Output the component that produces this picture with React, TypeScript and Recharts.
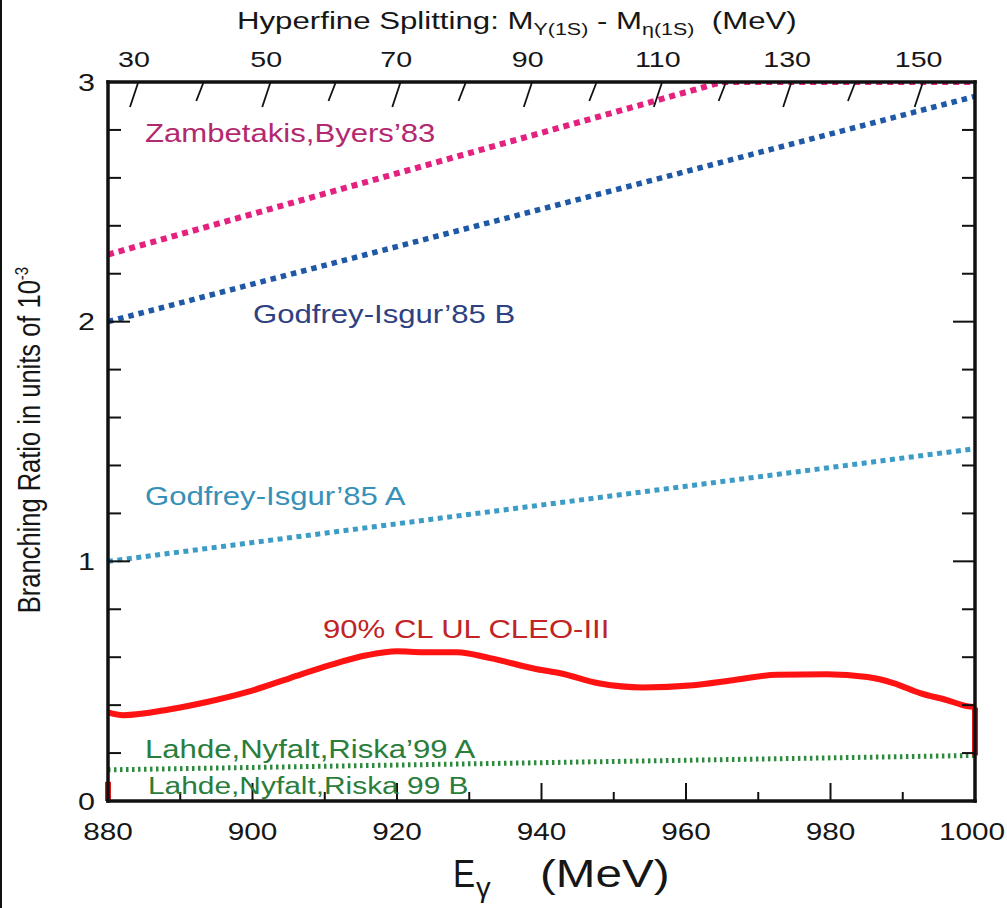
import { LineChart, Line, XAxis, YAxis, ReferenceLine } from 'recharts';

const FONT = "'Liberation Sans', Arial, sans-serif";

// bottom axis: photon energy (MeV)
const eTicks = [880, 890, 900, 910, 920, 930, 940, 950, 960, 970, 980, 990, 1000];
// left / right axis: branching ratio (1e-3)
const brTicks = [0, 0.2, 0.4, 0.6, 0.8, 1, 1.2, 1.4, 1.6, 1.8, 2, 2.2, 2.4, 2.6, 2.8, 3];
// top axis: hyperfine splitting and where it falls on the E scale
const hfsValues = [30, 40, 50, 60, 70, 80, 90, 100, 110, 120, 130, 140, 150];
const hfsAtE = [883.6, 892.7, 901.9, 911.0, 919.9, 929.0, 938.1, 947.1, 956.1, 965.0, 974.0, 982.9, 992.2];

// theory predictions
const zbE = [880, 965, 1000];
const zbV = [2.28, 3.0, 3.0];
const gibE = [880, 1000];
const gibV = [2.0, 2.94];
const giaE = [880, 1000];
const giaV = [1.0, 1.47];
const lnaE = [880, 1000];
const lnaV = [0.13, 0.19];
const lnbE = [880, 1000];
const lnbV = [0.0, 0.0];

// CLEO-III 90% CL upper limit
const clE = [880, 882.1, 888.6, 893.7, 899.2, 905.2, 910.7, 915.8, 920.0, 923.6, 928.3, 932.9, 939.4, 942.6, 948.1, 954.0, 961.0, 966.5, 972.6, 979.5, 985.1, 988.7, 992.4, 996.1, 998.9, 1000];
const clV = [0.37, 0.358, 0.383, 0.413, 0.454, 0.513, 0.567, 0.608, 0.625, 0.621, 0.621, 0.596, 0.55, 0.533, 0.49, 0.474, 0.483, 0.504, 0.527, 0.529, 0.517, 0.492, 0.45, 0.421, 0.396, 0.392];
const clLeftBar = [0, 0.08];
const clRightBar = [0.19, 0.39];

const pts = (es: number[], vs: number[]) => es.map((e, i) => ({ e, v: vs[i] }));

function Txt({ x, y, size, fill = '#161616', anchor = 'start', sx = 1.22, weight, children }: any) {
  return (
    <text
      transform={`translate(${x},${y}) scale(${sx},1)`}
      fontSize={size}
      fill={fill}
      textAnchor={anchor}
      fontFamily={FONT}
      fontWeight={weight}
    >
      {children}
    </text>
  );
}

const isMajor = (v: number) => Math.abs(v - Math.round(v)) < 1e-6;

function BottomTick(p: any) {
  const { x, y, payload } = p;
  const major = (payload.value - 880) % 20 === 0;
  const last = payload.value === 1000;
  return (
    <g>
      <line x1={x} x2={x} y1={y} y2={y - (major ? 18 : 9)} stroke="#111" strokeWidth={2} />
      {major && (
        <Txt x={last ? x - 3 : x} y={y + 39} size={24} anchor="middle" sx={1.24}>
          {payload.value}
        </Txt>
      )}
    </g>
  );
}

function LeftTick(p: any) {
  const { x, y, payload } = p;
  const major = isMajor(payload.value);
  return (
    <g>
      <line x1={x} x2={x + (major ? 22 : 13)} y1={y} y2={y} stroke="#111" strokeWidth={2} />
      {major && (
        <Txt x={x - 13} y={y + 8.5} size={24} anchor="end" sx={1.27}>
          {Math.round(payload.value)}
        </Txt>
      )}
    </g>
  );
}

function RightTick(p: any) {
  const { x, y, payload } = p;
  const major = isMajor(payload.value);
  return <line x1={x} x2={x - (major ? 22 : 13)} y1={y} y2={y} stroke="#111" strokeWidth={2} />;
}

function TopTick(p: any) {
  const { x, y, index } = p;
  const hfs = hfsValues[index];
  const major = (hfs - 30) % 20 === 0;
  const len = major ? 24 : 18;
  const s = major ? 4 : 3.5;
  return (
    <g>
      <line x1={x + s} y1={y + 1} x2={x - s} y2={y + 1 + len} stroke="#111" strokeWidth={1.8} />
      {major && (
        <Txt x={x} y={y - 15} size={22} anchor="middle" sx={1.3}>
          {hfs}
        </Txt>
      )}
    </g>
  );
}

const axisLine = { stroke: '#111', strokeWidth: 3.5, strokeLinecap: 'square' as const };

export default function App() {
  return (
    <div style={{ position: 'absolute', left: 0, top: 0, width: 1007, height: 908, background: '#fff', borderLeft: '2px solid #111', boxSizing: 'border-box' }}>
      <div style={{ position: 'absolute', left: -2, top: 0 }}>
        <LineChart width={1007} height={908} margin={{ top: 81, right: 31, bottom: 106, left: 107 }}>
          <XAxis
            xAxisId="b"
            dataKey="e"
            type="number"
            domain={[880, 1000]}
            allowDataOverflow
            ticks={eTicks}
            interval={0}
            height={1}
            tickSize={0}
            tickMargin={0}
            tickLine={false}
            axisLine={axisLine}
            tick={BottomTick}
          />
          <XAxis
            xAxisId="t"
            orientation="top"
            dataKey="e"
            type="number"
            domain={[880, 1000]}
            allowDataOverflow
            ticks={hfsAtE}
            interval={0}
            height={1}
            tickSize={0}
            tickMargin={0}
            tickLine={false}
            axisLine={axisLine}
            tick={TopTick}
          />
          <YAxis
            yAxisId="l"
            type="number"
            domain={[0, 3]}
            allowDataOverflow
            ticks={brTicks}
            interval={0}
            width={1}
            tickSize={0}
            tickMargin={0}
            tickLine={false}
            axisLine={axisLine}
            tick={LeftTick}
          />
          <YAxis
            yAxisId="r"
            orientation="right"
            type="number"
            domain={[0, 3]}
            allowDataOverflow
            ticks={brTicks}
            interval={0}
            width={1}
            tickSize={0}
            tickMargin={0}
            tickLine={false}
            axisLine={axisLine}
            tick={RightTick}
          />
          <Line xAxisId="b" yAxisId="l" data={pts(lnbE, lnbV)} dataKey="v" type="linear" stroke="#2f6a3a" strokeWidth={1.5} strokeDasharray="2 3" dot={false} isAnimationActive={false} />
          <Line xAxisId="b" yAxisId="l" data={pts(lnaE, lnaV)} dataKey="v" type="linear" stroke="#2f8a3f" strokeWidth={5} strokeDasharray="2.5 3.5" dot={false} isAnimationActive={false} />
          <Line xAxisId="b" yAxisId="l" data={pts(giaE, giaV)} dataKey="v" type="linear" stroke="#3d9cc6" strokeWidth={5} strokeDasharray="5 4.5" dot={false} isAnimationActive={false} />
          <Line xAxisId="b" yAxisId="l" data={pts(gibE, gibV)} dataKey="v" type="linear" stroke="#1f59a5" strokeWidth={5.5} strokeDasharray="5.5 5" dot={false} isAnimationActive={false} />
          <Line xAxisId="b" yAxisId="l" data={pts(zbE, zbV)} dataKey="v" type="linear" stroke="#e5217f" strokeWidth={6} strokeDasharray="6 5" dot={false} isAnimationActive={false} />
          <Line xAxisId="b" yAxisId="l" data={pts(clE, clV)} dataKey="v" type="monotone" stroke="#ff1212" strokeWidth={6} strokeLinejoin="round" dot={false} isAnimationActive={false} />
          <ReferenceLine xAxisId="b" yAxisId="l" segment={[{ x: 880, y: clLeftBar[0] }, { x: 880, y: clLeftBar[1] }]} stroke="#e01818" strokeWidth={6} ifOverflow="visible" />
          <ReferenceLine xAxisId="b" yAxisId="l" segment={[{ x: 1000, y: clRightBar[0] }, { x: 1000, y: clRightBar[1] }]} stroke="#e01818" strokeWidth={6} ifOverflow="visible" />
        </LineChart>
      </div>
      <svg width={1007} height={908} style={{ position: 'absolute', left: -2, top: 0, pointerEvents: 'none' }}>
        <text transform="translate(237,29) scale(1.3,1)" fontSize={24} fill="#161616" fontFamily={FONT}>
          Hyperfine Splitting: M
          <tspan fontSize={16.5} dy={6}>Υ(1S)</tspan>
          <tspan dy={-6}> - M</tspan>
          <tspan fontSize={16.5} dy={6}>η(1S)</tspan>
          <tspan dy={-6}>{'\u00a0\u00a0(MeV)'}</tspan>
        </text>
        <text transform="translate(40,440) rotate(-90) scale(1,1.22)" fontSize={25.5} fill="#161616" fontFamily={FONT} textAnchor="middle">
          Branching Ratio in units of 10
          <tspan fontSize={15} dy={-10}>-3</tspan>
        </text>
        <Txt x={453} y={887} size={39} sx={0.85}>E</Txt>
        <Txt x={476} y={897} size={28} sx={1.05}>γ</Txt>
        <Txt x={540} y={887} size={39}>(MeV)</Txt>

        <Txt x={145} y={141.7} size={25.5} fill="#b3296f">Zambetakis,Byers’83</Txt>
        <Txt x={253} y={323} size={25.5} fill="#2e4181">Godfrey-Isgur’85 B</Txt>
        <Txt x={145} y={505} size={25.5} fill="#3790b8">Godfrey-Isgur’85 A</Txt>
        <Txt x={323} y={638} size={25.5} fill="#c02424">90% CL UL CLEO-III</Txt>
        <Txt x={145} y={757.7} size={25.5} fill="#2a7d3b">Lahde,Nyfalt,Riska’99 A</Txt>
        <Txt x={148} y={794} size={24.5} fill="#2a7d3b">Lahde,Nyfalt,Riska 99 B</Txt>
      </svg>
    </div>
  );
}
